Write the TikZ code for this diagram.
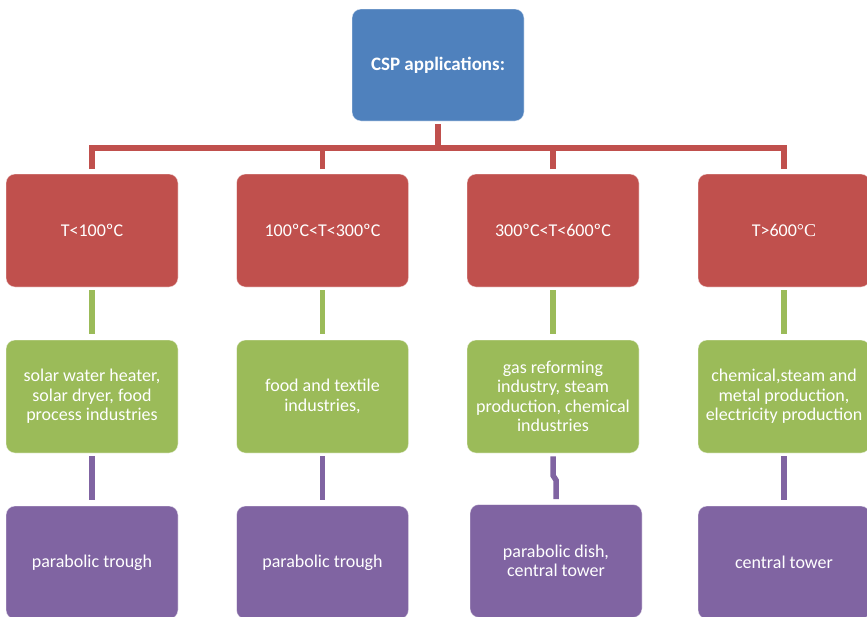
\documentclass[tikz,border=0pt]{standalone}
\usepackage{fontspec}
\setmainfont{Carlito}
\newfontfamily\serifdeg{Liberation Serif}
\definecolor{cspblue}{HTML}{4F81BD}
\definecolor{cspred}{HTML}{C0504D}
\definecolor{cspgreen}{HTML}{9BBB59}
\definecolor{csppurple}{HTML}{8064A2}
\begin{document}
\begin{tikzpicture}[x=1pt,y=-1pt,
  box/.style={rounded corners=9pt, minimum width=172pt, minimum height=113pt,
    text=white, font=\fontsize{18}{19.5}\selectfont, align=center, inner sep=0pt,
    draw=white, draw opacity=0.45, line width=0.8pt},
  topbox/.style={box, fill=cspblue, minimum height=112pt, font=\fontsize{19}{20}\selectfont\bfseries},
  tempbox/.style={box, fill=cspred},
  usebox/.style={box, fill=cspgreen},
  techbox/.style={box, fill=csppurple},
  link/.style={line width=5.5pt, line cap=butt, line join=miter},
  rline/.style={link, draw=cspred},
  gline/.style={link, draw=cspgreen},
  pline/.style={link, draw=csppurple}]
\useasboundingbox (0,0) rectangle (867,616);

% root
\node[topbox] (top) at (438,65) {CSP applications:};

% temperature ranges
\node[tempbox] (r1) at (92,230.5)  {T<100ºC};
\node[tempbox] (r2) at (322.5,230.5) {100ºC<T<300ºC};
\node[tempbox] (r3) at (553,230.5) {300ºC<T<600ºC};
\node[tempbox] (r4) at (784,230.5) {T>600{\serifdeg °C}};

% applications
\node[usebox] (g1) at (92,396.5)  {solar water heater,\\solar dryer, food\\process industries};
\node[usebox] (g2) at (322.5,396.5) {food and textile\\industries,};
\node[usebox] (g3) at (553,396.5) {gas reforming\\industry, steam\\production, chemical\\industries};
\node[usebox] (g4) at (784,396.5) {chemical,steam and\\metal production,\\electricity production};

% collector technologies
\node[techbox] (p1) at (92,562.5)  {parabolic trough};
\node[techbox] (p2) at (322.5,562.5) {parabolic trough};
\node[techbox] (p3) at (556,561) {parabolic dish,\\central tower};
\node[techbox] (p4) at (784,562.5) {central tower};

% red distribution bar
\coordinate (bar) at (0,148);
\draw[rline] ([yshift=-3pt]top.south) -- (top.south |- bar);
\draw[rline] ([yshift=4.5pt]r1.north) -- (r1.north |- bar) -- (r4.north |- bar) -- ([yshift=4.5pt]r4.north);
\draw[rline] ([yshift=4.5pt]r2.north) -- (r2.north |- bar);
\draw[rline] ([yshift=4.5pt]r3.north) -- (r3.north |- bar);

% green links
\foreach \i in {1,...,4}
  \draw[gline] ([yshift=-3pt]r\i.south) -- ([yshift=6pt]g\i.north);

% purple links
\foreach \i in {1,2,4}
  \draw[pline] ([yshift=-3pt]g\i.south) -- ([yshift=6pt]p\i.north);
\draw[pline] ([yshift=-3pt]g3.south) -- ++(0,19) -- ([yshift=24pt]p3.north) -- ([yshift=5pt]p3.north);
\end{tikzpicture}
\end{document}
